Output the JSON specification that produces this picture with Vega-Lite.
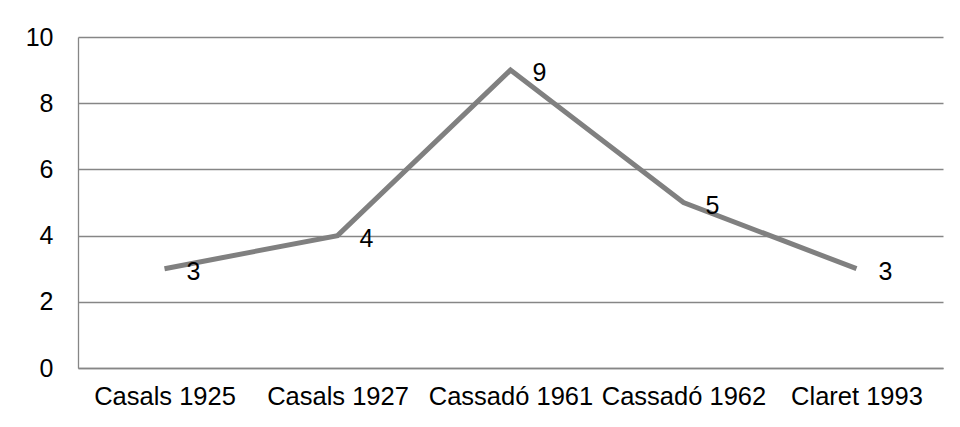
{
  "$schema": "https://vega.github.io/schema/vega-lite/v6.json",
  "width": 865,
  "height": 331,
  "autosize": {"type": "none"},
  "padding": {"left": 78, "top": 37, "right": 17, "bottom": 59},
  "background": "white",
  "data": {"values": [
    {"name": "Casals 1925", "value": 3},
    {"name": "Casals 1927", "value": 4},
    {"name": "Cassadó 1961", "value": 9},
    {"name": "Cassadó 1962", "value": 5},
    {"name": "Claret 1993", "value": 3}
  ]},
  "config": {
    "view": {"stroke": null},
    "font": "Liberation Sans"
  },
  "encoding": {
    "x": {
      "field": "name", "type": "ordinal", "sort": null,
      "scale": {"type": "point", "padding": 0.5},
      "axis": {
        "title": null, "labelAngle": 0, "ticks": false, "grid": false,
        "domainColor": "#868686", "domainWidth": 1.3,
        "labelFontSize": 25.5, "labelColor": "#000000", "labelPadding": 16,
        "labelFont": "Liberation Sans", "labelOverlap": false
      }
    },
    "y": {
      "field": "value", "type": "quantitative",
      "scale": {"domain": [0, 10], "nice": false, "zero": true},
      "axis": {
        "title": null, "values": [0, 2, 4, 6, 8, 10], "ticks": false,
        "grid": true, "gridColor": "#868686", "gridWidth": 1.3, "gridOpacity": 1,
        "domainColor": "#868686", "domainWidth": 1.3,
        "labelFontSize": 25, "labelColor": "#000000", "labelPadding": 25,
        "labelFont": "Liberation Sans", "labelOverlap": false
      }
    }
  },
  "layer": [
    {
      "mark": {"type": "line", "color": "#808080", "strokeWidth": 5, "strokeJoin": "miter"}
    },
    {
      "mark": {"type": "text", "align": "left", "baseline": "middle", "dx": 22, "dy": 3, "fontSize": 25, "color": "#000000", "font": "Liberation Sans"},
      "encoding": {"text": {"field": "value", "type": "quantitative"}}
    }
  ]
}
